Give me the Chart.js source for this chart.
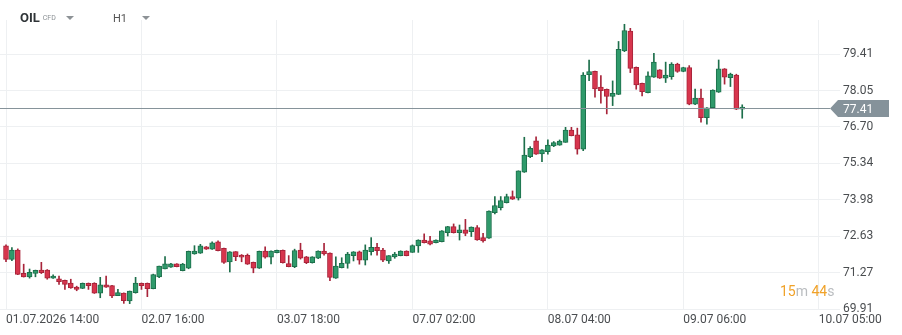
<!DOCTYPE html>
<html>
<head>
<meta charset="utf-8">
<script src="https://cdn.jsdelivr.net/npm/chart.js@4.4.1/dist/chart.umd.min.js"></script>
<style>
  html, body { margin: 0; padding: 0; background: #fff; }
  #wrap { position: relative; width: 902px; height: 335px; font-family: Roboto, "Noto Sans", sans-serif; }
  #chart { position: absolute; left: 0; top: 0; }
  .hdr { position: absolute; top: 10px; white-space: nowrap; }
  .sym { left: 20px; font-weight: 700; font-size: 13px; color: #2f3437; }
  .sym small { font-weight: 400; font-size: 7px; color: #8a8f93; margin-left: 3px; vertical-align: 2px; }
  .tf { left: 113px; top: 12px; font-size: 11px; color: #555; }
  .caret { position: absolute; width: 0; height: 0; border-left: 4px solid transparent; border-right: 4px solid transparent; border-top: 4px solid #8d9296; }
  #timer { position: absolute; left: 780px; top: 283px; font-size: 14px; color: #f0a229; }
  #timer span { color: #b9bcbf; }
</style>
</head>
<body>
<div id="wrap">
  <canvas id="chart" width="902" height="335"></canvas>
  <div class="hdr sym">OIL<small>CFD</small></div>
  <div class="caret" style="left:66px;top:16px"></div>
  <div class="hdr tf">H1</div>
  <div class="caret" style="left:142px;top:16px"></div>
  <div id="timer">15<span>m</span> 44<span>s</span></div>
</div>
<script>
// hourly candles, 01.07 14:00 -> 09.07
const opens = [72.26,71.76,72.11,71.24,71.11,71.24,71.36,71.36,71.06,71.03,
  70.98,70.88,70.73,70.68,70.87,70.87,70.50,70.81,70.78,70.41,
  70.50,70.21,70.52,70.87,70.87,70.67,71.11,71.40,71.47,71.59,
  71.34,71.43,71.96,71.99,72.23,72.14,72.41,72.17,71.66,72.05,
  71.92,71.91,71.65,71.43,72.07,71.84,72.01,72.10,71.60,71.49,
  72.11,71.85,71.64,71.80,72.07,71.99,71.06,71.45,71.61,71.90,
  72.04,71.73,72.05,72.21,72.11,71.70,71.85,71.90,72.07,72.02,
  72.26,72.48,72.45,72.38,72.42,72.75,72.98,72.75,72.86,72.79,
  72.94,72.57,72.55,73.50,73.69,73.87,74.10,74.04,75.01,75.59,
  76.18,75.69,75.77,75.99,76.02,76.12,76.58,76.40,75.87,78.64,
  78.77,78.18,78.10,77.83,77.91,79.53,80.27,78.92,78.32,77.97,
  78.55,78.82,78.51,78.57,79.04,78.76,78.91,77.54,77.77,77.04,
  77.41,77.99,78.86,78.53,78.63,77.36];
const highs = [72.30,72.20,72.15,71.58,71.40,71.36,71.65,71.38,71.18,71.14,
  70.99,71.02,70.76,70.88,70.88,70.89,71.09,71.14,70.79,70.64,
  70.51,70.58,71.09,70.88,70.88,71.21,71.51,71.86,71.61,71.60,
  71.61,72.07,72.27,72.32,72.24,72.41,72.45,72.18,72.05,72.05,
  71.94,71.96,71.66,72.07,72.23,72.08,72.11,72.11,71.90,72.14,
  72.36,71.87,71.86,72.08,72.36,72.00,71.85,71.82,72.02,72.05,
  72.07,72.30,72.57,72.36,72.17,71.90,72.02,72.08,72.08,72.30,
  72.49,72.71,72.62,72.49,72.83,72.99,73.08,73.04,73.25,72.97,
  73.02,72.73,73.57,74.10,74.10,74.19,74.31,75.06,76.31,75.96,
  76.33,75.85,76.21,76.15,76.21,76.68,76.68,76.65,78.72,79.19,
  78.78,78.61,78.11,78.41,79.88,80.52,80.37,78.93,78.33,78.75,
  79.44,78.83,79.11,79.09,79.07,78.92,78.98,78.11,78.11,77.42,
  78.08,79.19,78.87,78.70,78.66,77.52];
const lows = [71.67,71.71,71.19,71.10,71.06,71.11,71.23,71.02,71.05,70.83,
  70.64,70.68,70.59,70.67,70.64,70.49,70.33,70.71,70.33,70.41,
  70.12,70.11,70.50,70.64,70.37,70.66,71.08,71.40,71.46,71.48,
  71.33,71.41,71.95,71.98,72.13,72.13,72.07,71.61,71.29,71.71,
  71.67,71.57,71.26,71.42,71.80,71.59,72.00,71.62,71.48,71.45,
  71.77,71.60,71.62,71.79,71.92,70.97,71.05,71.44,71.43,71.70,
  71.58,71.55,71.92,71.92,71.67,71.61,71.80,71.89,71.89,72.02,
  72.02,72.37,72.30,72.37,72.41,72.63,72.74,72.48,72.64,72.61,
  72.47,72.40,72.54,73.45,73.60,73.86,73.99,73.97,75.00,75.55,
  75.67,75.40,75.68,75.96,76.01,76.12,76.36,75.68,75.81,78.42,
  77.80,77.58,77.18,77.49,77.90,79.50,78.72,78.10,77.85,77.96,
  78.54,78.50,78.35,78.47,78.73,78.75,77.52,77.52,76.87,76.80,
  77.40,77.98,78.29,78.20,77.34,77.02];
const closes = [71.76,72.11,71.20,71.11,71.28,71.35,71.26,71.06,71.14,70.93,
  70.83,70.70,70.64,70.87,70.78,70.50,70.81,70.72,70.40,70.52,
  70.22,70.58,70.88,70.78,70.67,71.19,71.51,71.59,71.59,71.49,
  71.58,72.06,72.07,72.26,72.14,72.38,72.08,71.65,72.04,71.86,
  71.84,71.58,71.43,72.06,71.84,72.07,72.10,71.64,71.49,72.09,
  71.80,71.64,71.85,72.07,71.96,71.09,71.51,71.61,71.96,72.04,
  71.73,72.11,72.21,72.08,71.73,71.90,71.96,72.07,71.90,72.27,
  72.48,72.38,72.33,72.48,72.82,72.98,72.75,72.86,72.73,72.96,
  72.48,72.45,73.56,73.76,73.95,74.10,74.00,75.06,75.65,75.90,
  75.68,75.84,76.02,76.11,76.17,76.58,76.37,75.87,78.63,78.76,
  78.11,78.05,77.83,77.95,79.59,80.29,78.88,78.26,78.01,78.60,
  79.11,78.51,78.63,79.04,78.76,78.91,77.54,77.77,77.04,77.41,
  78.07,78.86,78.55,78.66,77.36,77.41];

const xTickIdx = [0, 23, 46, 69, 92, 115, 138];
const xLabels = ['01.07.2026 14:00', '02.07 16:00', '03.07 18:00', '07.07 02:00', '08.07 04:00', '09.07 06:00', '10.07 05:00'];
const yTicks = [69.91, 71.27, 72.63, 73.98, 75.34, 76.70, 78.05, 79.41];
const lastPrice = 77.41;

const UP = '#2f9a6b', UP_EDGE = '#1d6f4b';
const DN = '#d7354d', DN_EDGE = '#a8243a';
const GRID = '#eef0f2';

const bodies = opens.map((o, i) => ({ x: i, y: [o, closes[i]] }));
const wicks = opens.map((o, i) => ({ x: i, y: [lows[i], highs[i]] }));
const isUp = i => closes[i] >= opens[i];

const priceLine = {
    id: 'priceLine',
    afterDatasetsDraw(chart) {
        const { ctx, chartArea, scales } = chart;
        const y = Math.round(scales.y.getPixelForValue(lastPrice)) + 0.5;
        ctx.save();
        ctx.strokeStyle = '#86939a';
        ctx.lineWidth = 1;
        ctx.beginPath();
        ctx.moveTo(chartArea.left, y);
        ctx.lineTo(830, y);
        ctx.stroke();
        // price tag
        ctx.fillStyle = '#85929a';
        ctx.beginPath();
        ctx.moveTo(830, y);
        ctx.lineTo(838, y - 8.5);
        ctx.lineTo(889, y - 8.5);
        ctx.lineTo(889, y + 8.5);
        ctx.lineTo(838, y + 8.5);
        ctx.closePath();
        ctx.fill();
        ctx.fillStyle = '#ffffff';
        ctx.font = '12px Roboto';
        ctx.textBaseline = 'middle';
        ctx.fillText(lastPrice.toFixed(2), 843, y + 1);
        ctx.restore();
    }
};

new Chart(document.getElementById('chart'), {
    type: 'bar',
    data: {
        datasets: [
            {
                label: 'body',
                data: bodies,
                backgroundColor: bodies.map((d, i) => isUp(i) ? UP : DN),
                borderColor: bodies.map((d, i) => isUp(i) ? UP_EDGE : DN_EDGE),
                borderWidth: 1,
                borderSkipped: false,
                barThickness: 5,
                minBarLength: 2,
                grouped: false,
                order: 0
            },
            {
                label: 'wick',
                data: wicks,
                backgroundColor: wicks.map((d, i) => isUp(i) ? UP_EDGE : DN_EDGE),
                borderWidth: 0,
                barThickness: 1,
                grouped: false,
                order: 1
            }
        ]
    },
    options: {
        responsive: false,
        animation: false,
        layout: { padding: { top: 20, left: 0, right: 0, bottom: 0 } },
        plugins: { legend: { display: false }, tooltip: { enabled: false } },
        scales: {
            x: {
                type: 'linear',
                min: -1.02,
                max: 141.6,
                offset: false,
                afterBuildTicks: s => { s.ticks = xTickIdx.map(v => ({ value: v })); },
                afterFit: s => { s.height = 26; },
                grid: { color: GRID, drawTicks: false, offset: false },
                border: { display: false },
                ticks: {
                    autoSkip: false,
                    maxRotation: 0,
                    align: 'start',
                    padding: 4,
                    color: '#4a4d50',
                    font: { family: 'Roboto', size: 12 },
                    callback: v => xLabels[xTickIdx.indexOf(v)]
                }
            },
            y: {
                position: 'right',
                min: 69.91,
                max: 80.68,
                afterBuildTicks: s => { s.ticks = yTicks.map(v => ({ value: v })); },
                afterFit: s => { s.width = 62; },
                grid: { color: GRID, drawTicks: false },
                border: { display: false },
                ticks: {
                    padding: 3,
                    color: '#4a4d50',
                    font: { family: 'Roboto', size: 12 },
                    callback: v => v.toFixed(2)
                }
            }
        }
    },
    plugins: [priceLine]
});
</script>
</body>
</html>
